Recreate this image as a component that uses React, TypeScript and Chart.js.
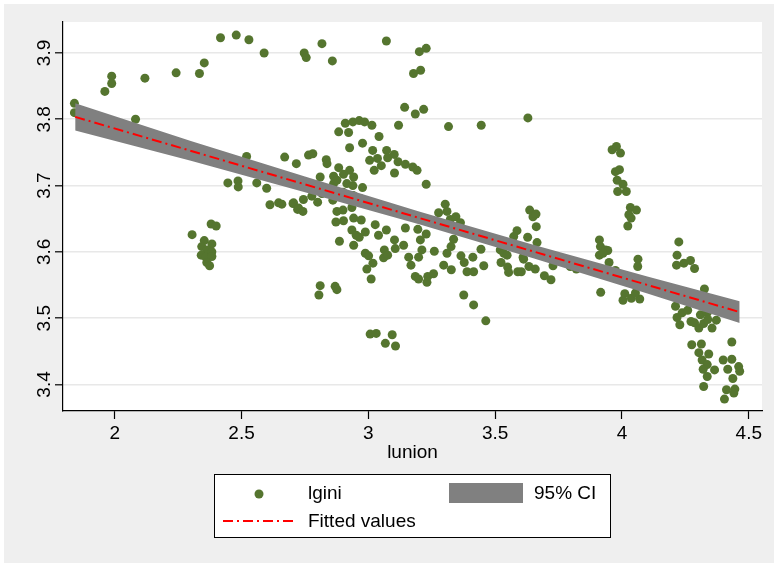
import { useEffect, useRef } from "react";
import { Chart, registerables } from "chart.js";

Chart.register(...registerables);

// lunion (x) and lgini (y)
const LUNION = [
  1.841, 1.841, 1.961, 1.988, 1.988, 2.119, 2.082, 2.242, 2.334, 2.353,
  2.417, 2.479, 2.529, 2.589, 2.520, 2.446, 2.486, 2.487, 2.560, 2.599,
  2.670, 2.716, 2.612, 2.646, 2.659, 2.703, 2.721, 2.380, 2.400, 2.305,
  2.353, 2.383, 2.343, 2.363, 2.383, 2.341, 2.359, 2.383, 2.363, 2.374,
  2.747, 2.755, 2.817, 2.858, 3.071, 3.201, 3.228, 3.178, 3.206, 3.143,
  3.185, 3.218, 3.119, 3.316, 3.445,
  2.883, 2.909, 2.922, 2.939, 2.964, 2.985, 3.014, 3.042, 2.977, 2.926,
  3.017, 3.005, 3.036, 3.051, 3.023, 3.072, 3.076, 3.102, 3.117, 3.146,
  3.175, 3.192, 3.103, 3.228,
  2.764, 2.781, 2.834, 2.837, 2.810, 2.863, 2.883, 2.876, 2.902, 2.926,
  2.942, 2.915, 2.939, 2.977, 2.863,
  2.705, 2.725, 2.742, 2.744, 2.777, 2.800, 2.817, 2.860, 2.876, 2.900,
  2.935, 2.872, 2.902, 2.942, 2.972, 2.935, 2.952, 2.964, 2.988, 2.886,
  2.942, 3.027, 3.040, 3.071, 2.988, 3.001, 3.018, 2.994, 3.011, 3.063,
  3.060, 3.076, 3.103, 3.106, 3.139, 3.146, 3.159, 3.168, 3.195, 3.205,
  3.211, 3.198, 3.228, 3.185, 3.198, 3.231, 3.234, 3.257, 3.260, 3.277,
  3.303, 3.310, 3.323, 3.345, 3.363, 3.336, 3.326, 3.310, 3.297, 3.327,
  3.365, 3.378, 3.389, 3.415, 3.412, 3.444, 3.455, 3.376, 3.415, 3.463,
  2.810, 2.805, 2.869, 2.876, 3.007, 3.031, 3.094, 3.067, 3.107,
  3.520, 3.534, 3.547, 3.523, 3.549, 3.553, 3.589, 3.586, 3.573, 3.610,
  3.628, 3.633, 3.636,
  2.900, 2.940, 2.970, 3.000, 3.050,
  3.629, 3.649, 3.661, 3.662, 3.665, 3.606, 3.612, 3.603, 3.658, 3.694,
  3.720, 3.728, 3.796, 3.820,
  3.961, 3.978, 3.994, 3.974, 3.990, 3.981, 4.004, 3.983, 4.017, 4.033,
  4.057, 4.027, 4.036, 4.023,
  3.911, 3.915, 3.935, 3.944, 3.911, 3.925, 3.949, 3.974, 3.916, 4.063,
  4.062, 4.011, 4.004, 4.037, 4.070, 4.053,
  4.224, 4.217, 4.215, 4.244, 4.270, 4.286, 4.325, 4.211, 4.217, 4.228,
  4.237, 4.259, 4.272, 4.286, 4.303, 4.309, 4.336, 4.355, 4.372, 4.322,
  4.338, 4.275, 4.313, 4.303, 4.342, 4.316, 4.336, 4.365, 4.320, 4.336,
  4.322, 4.399, 4.433, 4.433, 4.417, 4.460, 4.464, 4.437, 4.412, 4.445,
  4.441, 4.404,
];

const LGINI = [
  3.824, 3.810, 3.842, 3.865, 3.854, 3.862, 3.800, 3.870, 3.869, 3.885,
  3.923, 3.927, 3.920, 3.900, 3.744, 3.704, 3.707, 3.698, 3.704, 3.696,
  3.743, 3.733, 3.671, 3.674, 3.672, 3.673, 3.664, 3.642, 3.639, 3.626,
  3.617, 3.612, 3.608, 3.603, 3.600, 3.595, 3.592, 3.593, 3.584, 3.579,
  3.900, 3.893, 3.914, 3.888, 3.918, 3.902, 3.907, 3.869, 3.874, 3.818,
  3.808, 3.815, 3.791, 3.789, 3.791,
  3.781, 3.794, 3.780, 3.796, 3.798, 3.796, 3.791, 3.774, 3.764, 3.757,
  3.753, 3.738, 3.741, 3.730, 3.723, 3.753, 3.742, 3.747, 3.736, 3.732,
  3.728, 3.723, 3.719, 3.702,
  3.746, 3.748, 3.739, 3.733, 3.713, 3.714, 3.727, 3.708, 3.717, 3.723,
  3.713, 3.703, 3.700, 3.697, 3.703,
  3.674, 3.666, 3.661, 3.679, 3.684, 3.675, 3.688, 3.678, 3.661, 3.663,
  3.667, 3.645, 3.647, 3.651, 3.648, 3.633, 3.625, 3.622, 3.630, 3.616,
  3.610, 3.641, 3.625, 3.633, 3.598, 3.594, 3.583, 3.574, 3.559, 3.603,
  3.591, 3.595, 3.618, 3.605, 3.610, 3.636, 3.592, 3.580, 3.634, 3.618,
  3.603, 3.592, 3.627, 3.563, 3.559, 3.554, 3.563, 3.567, 3.601, 3.659,
  3.672, 3.661, 3.649, 3.653, 3.644, 3.619, 3.608, 3.598, 3.580, 3.573,
  3.594, 3.584, 3.570, 3.570, 3.592, 3.604, 3.579, 3.535, 3.520, 3.496,
  3.549, 3.535, 3.548, 3.543, 3.476, 3.477, 3.475, 3.462, 3.458,
  3.603, 3.598, 3.595, 3.584, 3.577, 3.569, 3.570, 3.632, 3.623, 3.592,
  3.622, 3.578, 3.663,
  3.690, 3.685, 3.680, 3.675, 3.670,
  3.802, 3.653, 3.657, 3.638, 3.614, 3.603, 3.589, 3.570, 3.574, 3.564,
  3.558, 3.579, 3.578, 3.574,
  3.754, 3.759, 3.749, 3.721, 3.724, 3.708, 3.702, 3.691, 3.691, 3.667,
  3.663, 3.656, 3.651, 3.639,
  3.618, 3.608, 3.603, 3.602, 3.595, 3.598, 3.584, 3.572, 3.539, 3.589,
  3.578, 3.537, 3.527, 3.530, 3.529, 3.538,
  3.615, 3.595, 3.580, 3.583, 3.587, 3.575, 3.544, 3.518, 3.501, 3.490,
  3.508, 3.512, 3.495, 3.493, 3.485, 3.505, 3.508, 3.485, 3.497, 3.492,
  3.498, 3.460, 3.461, 3.448, 3.446, 3.437, 3.430, 3.422, 3.423, 3.412,
  3.397, 3.437, 3.438, 3.464, 3.423, 3.427, 3.420, 3.409, 3.392, 3.393,
  3.387, 3.378,
];

// Fitted line end points and 95% CI band
const FIT_X = [1.844, 4.464];
const FIT_Y = [3.8036, 3.5092];
const CI_X = [1.844, 2.3, 2.75, 3.2, 3.65, 4.1, 4.464];
const CI_UPPER = [3.8241, 3.7674, 3.7136, 3.6609, 3.6108, 3.5629, 3.5255];
const CI_LOWER = [3.7831, 3.7374, 3.69, 3.6415, 3.5904, 3.5373, 3.4929];

const X_TICKS = [2, 2.5, 3, 3.5, 4, 4.5];
const X_TICK_LABELS = ["2", "2.5", "3", "3.5", "4", "4.5"];
const Y_TICKS = [3.4, 3.5, 3.6, 3.7, 3.8, 3.9];
const Y_TICK_LABELS = ["3.4", "3.5", "3.6", "3.7", "3.8", "3.9"];
const X_RANGE = [1.796, 4.552];
const Y_RANGE = [3.36, 3.9467];

const SERIES_LABELS = { scatter: "lgini", ci: "95% CI", fit: "Fitted values" };
const X_TITLE = "lunion";

const FONT = "'Liberation Sans', Arial, sans-serif";
const GREEN = "#55752f";
const BAND = "#808080";
const RED = "#ff0000";
const DASH = [10, 4, 2, 4];

export default function App() {
  const ref = useRef<HTMLCanvasElement | null>(null);

  useEffect(() => {
    const canvas = ref.current;
    if (!canvas) return;

    const background = {
      id: "bg",
      beforeDraw(chart: any) {
        const { ctx, width, height, chartArea: a } = chart;
        ctx.save();
        ctx.fillStyle = "#ffffff";
        ctx.fillRect(0, 0, width, height);
        ctx.fillStyle = "#efefef";
        ctx.fillRect(4, 4, width - 4, height - 4);
        ctx.fillStyle = "#ffffff";
        ctx.fillRect(a.left, a.top, a.right - a.left, a.bottom - a.top);
        ctx.restore();
      },
    };

    const yLabels = {
      id: "yLabels",
      afterDraw(chart: any) {
        const { ctx } = chart;
        const scale = chart.scales.y;
        ctx.save();
        ctx.fillStyle = "#000";
        ctx.font = `19px ${FONT}`;
        ctx.textAlign = "center";
        ctx.textBaseline = "alphabetic";
        scale.ticks.forEach((t: any) => {
          const idx = Y_TICKS.indexOf(t.value);
          if (idx < 0) return;
          const py = scale.getPixelForValue(t.value);
          ctx.save();
          ctx.translate(50, py);
          ctx.rotate(-Math.PI / 2);
          ctx.fillText(Y_TICK_LABELS[idx], 0, 0);
          ctx.restore();
        });
        ctx.restore();
      },
    };

    const legendBox = {
      id: "legendBox",
      afterDraw(chart: any) {
        const { ctx } = chart;
        const ds = chart.data.datasets;
        const fit = ds.find((d: any) => d.label === SERIES_LABELS.fit);
        const ci = ds.find((d: any) => d.label === SERIES_LABELS.ci);
        const sc = ds.find((d: any) => d.label === SERIES_LABELS.scatter);
        ctx.save();
        ctx.fillStyle = "#ffffff";
        ctx.fillRect(214, 474, 396, 63);
        ctx.strokeStyle = "#000";
        ctx.lineWidth = 1;
        ctx.strokeRect(214.5, 474.5, 396, 63);
        // scatter marker
        ctx.fillStyle = sc.backgroundColor;
        ctx.beginPath();
        ctx.arc(259, 494, 4.5, 0, Math.PI * 2);
        ctx.fill();
        // CI swatch
        ctx.fillStyle = ci.backgroundColor;
        ctx.fillRect(449, 483, 74, 20);
        // fitted line
        ctx.strokeStyle = fit.borderColor;
        ctx.lineWidth = 2;
        ctx.setLineDash(DASH);
        ctx.beginPath();
        ctx.moveTo(223, 521);
        ctx.lineTo(296, 521);
        ctx.stroke();
        ctx.setLineDash([]);
        ctx.fillStyle = "#000";
        ctx.font = `19px ${FONT}`;
        ctx.textAlign = "left";
        ctx.textBaseline = "middle";
        ctx.fillText(sc.label, 308, 494);
        ctx.fillText(ci.label, 534, 494);
        ctx.fillText(fit.label, 308, 522);
        ctx.restore();
      },
    };

    const points = LUNION.map((x, i) => ({ x, y: LGINI[i] }));
    const fitData = FIT_X.map((x, i) => ({ x, y: FIT_Y[i] }));
    const upper = CI_X.map((x, i) => ({ x, y: CI_UPPER[i] }));
    const lower = CI_X.map((x, i) => ({ x, y: CI_LOWER[i] }));

    const chart = new Chart(canvas, {
      type: "scatter",
      data: {
        datasets: [
          {
            type: "line",
            label: SERIES_LABELS.fit,
            data: fitData,
            borderColor: RED,
            borderWidth: 2,
            borderDash: DASH,
            pointRadius: 0,
            fill: false,
            order: 1,
          } as any,
          {
            type: "line",
            label: SERIES_LABELS.ci,
            data: upper,
            borderColor: "rgba(0,0,0,0)",
            borderWidth: 0,
            backgroundColor: BAND,
            pointRadius: 0,
            fill: "+1",
            order: 2,
          } as any,
          {
            type: "line",
            label: "ci_lower",
            data: lower,
            borderColor: "rgba(0,0,0,0)",
            borderWidth: 0,
            pointRadius: 0,
            fill: false,
            order: 2,
          } as any,
          {
            type: "scatter",
            label: SERIES_LABELS.scatter,
            data: points,
            backgroundColor: GREEN,
            borderWidth: 0,
            pointRadius: 4.5,
            order: 3,
          } as any,
        ],
      },
      options: {
        responsive: false,
        animation: false,
        devicePixelRatio: 1,
        layout: { padding: { left: 0, top: 22, right: 12, bottom: 98.6 } },
        plugins: {
          legend: { display: false },
          tooltip: { enabled: false },
        },
        scales: {
          x: {
            type: "linear",
            min: X_RANGE[0],
            max: X_RANGE[1],
            afterBuildTicks: (s: any) => {
              s.ticks = X_TICKS.map((v) => ({ value: v }));
            },
            afterFit: (s: any) => {
              s.height = 53.4;
            },
            ticks: {
              autoSkip: false,
              maxRotation: 0,
              minRotation: 0,
              padding: 3,
              color: "#000",
              font: { family: FONT, size: 19 },
              callback: (v: any) => {
                const i = X_TICKS.indexOf(Number(v));
                return i >= 0 ? X_TICK_LABELS[i] : "";
              },
            },
            grid: {
              drawOnChartArea: false,
              drawTicks: true,
              tickLength: 8,
              tickColor: "#000",
              tickWidth: 1.2,
            },
            border: { color: "#000", width: 1.2 },
            title: {
              display: true,
              text: X_TITLE,
              color: "#000",
              font: { family: FONT, size: 19 },
              padding: 0,
            },
          },
          y: {
            type: "linear",
            min: Y_RANGE[0],
            max: Y_RANGE[1],
            afterBuildTicks: (s: any) => {
              s.ticks = Y_TICKS.map((v) => ({ value: v }));
            },
            afterFit: (s: any) => {
              s.width = 63;
            },
            ticks: { display: false },
            grid: {
              color: "#e8e8e8",
              lineWidth: 1.6,
              drawTicks: true,
              tickLength: 8,
              tickColor: "#000",
              tickWidth: 1.2,
            },
            border: { color: "#000", width: 1.2 },
          },
        },
      } as any,
      plugins: [background, yLabels, legendBox],
    });

    return () => chart.destroy();
  }, []);

  return (
    <div style={{ position: "fixed", left: 0, top: 0, width: 774, height: 563 }}>
      <canvas ref={ref} width={774} height={563} style={{ display: "block" }} />
    </div>
  );
}
